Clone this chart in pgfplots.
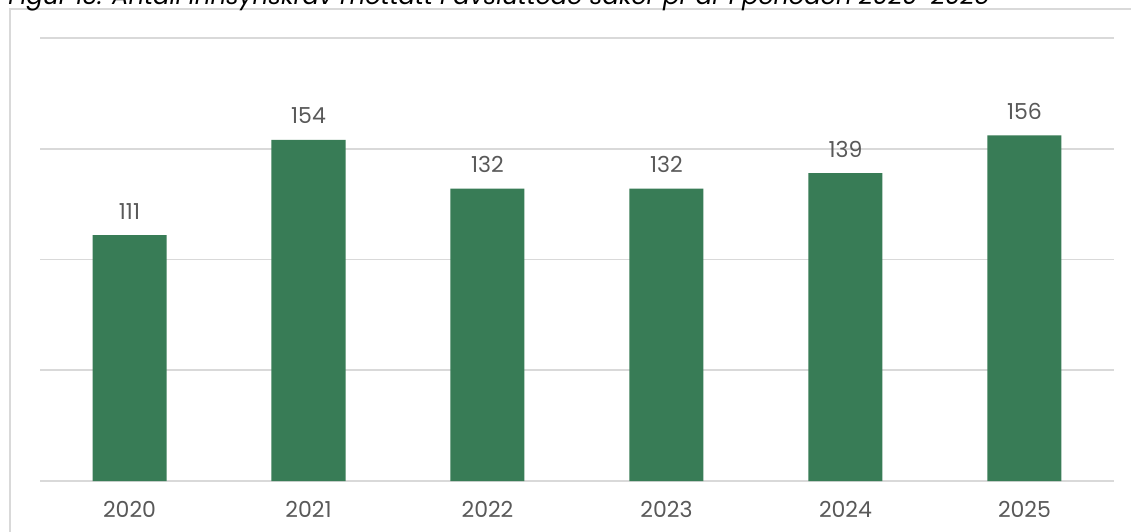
\documentclass[border=0pt]{standalone}
\usepackage{fontspec}
\setmainfont{Poppins}
\usepackage{pgfplots}
\pgfplotsset{compat=1.18}
\definecolor{barc}{RGB}{56,124,86}
\definecolor{gridc}{RGB}{217,217,217}
\definecolor{txt}{RGB}{89,89,89}
\begin{document}
\begin{tikzpicture}[x=1pt,y=1pt]
\path[use as bounding box, clip] (-20,-25) rectangle (545.5,240.5);
\fill[white] (-20,-25) rectangle (545.5,240.5);
\draw[gridc, line width=0.9pt] (-15,-40) -- (-15,235.8) -- (560,235.8);
\node[anchor=base west, inner sep=0pt, font=\itshape\fontsize{12.2}{14}\selectfont, text=black] at (-16,238) {Figur 13: Antall innsynskrav mottatt i avsluttede saker pr år i perioden 2020-2025};
\begin{axis}[
  at={(0,0)}, anchor=south west,
  scale only axis, width=537pt, height=221.5pt,
  xmin=-0.5, xmax=5.5, ymin=0, ymax=200,
  ytick={0,50,100,150,200}, yticklabels={},
  ymajorgrids, grid style={gridc, line width=0.9pt},
  axis line style={draw=none},
  major tick length=0pt,
  xtick={0,1,2,3,4,5},
  xticklabels={2020,2021,2022,2023,2024,2025},
  xticklabel style={anchor=base, yshift=-18pt, inner sep=0pt, font=\fontsize{11}{13}\selectfont, text=txt},
  /pgf/number format/assume math mode=true,
  ybar, bar width=37pt,
  nodes near coords,
  every node near coord/.append style={anchor=base, yshift=8pt, inner sep=0pt, font=\fontsize{11}{13}\selectfont, text=txt},
]
\addplot[draw=none, fill=barc] coordinates {(0,111) (1,154) (2,132) (3,132) (4,139) (5,156)};
\end{axis}
\end{tikzpicture}
\end{document}
